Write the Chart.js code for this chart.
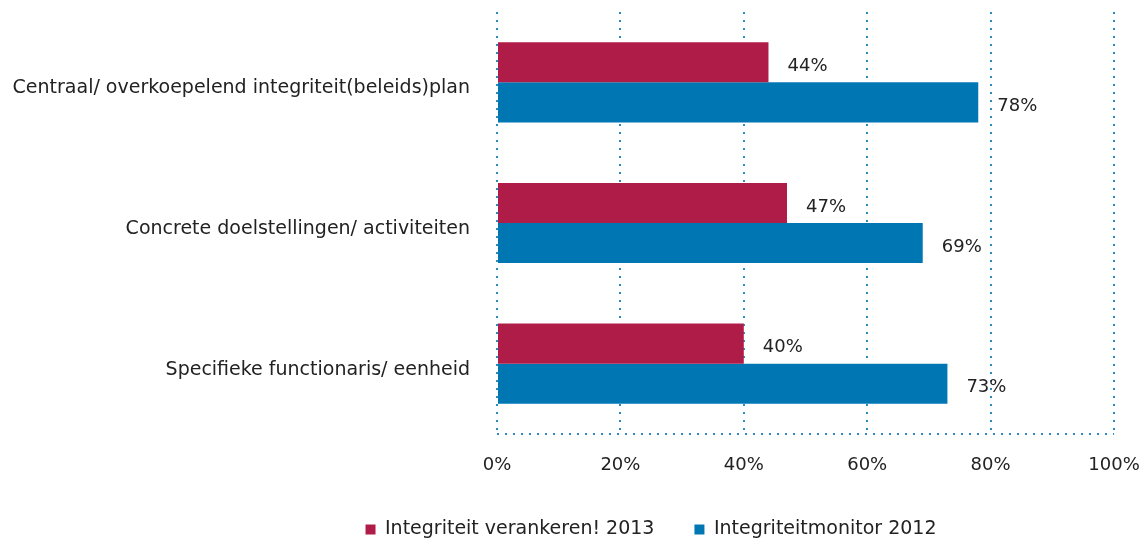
<!DOCTYPE html>
<html>
<head>
<meta charset="utf-8">
<script src="https://cdn.jsdelivr.net/npm/chart.js@4"></script>
<style>
  body { margin: 0; background: #fff; }
  #wrap { width: 1147px; height: 549px; }
</style>
</head>
<body>
<div id="wrap"><canvas id="myChart"></canvas></div>
<script>
const categories = [
  'Centraal/ overkoepelend integriteit(beleids)plan',
  'Concrete doelstellingen/ activiteiten',
  'Specifieke functionaris/ eenheid'
];
const values2013 = [44, 47, 40];
const values2012 = [78, 69, 73];
const xTicks = [0, 20, 40, 60, 80, 100];

const FONT = { family: 'DejaVu Sans', size: 19 };
const NUM_FONT = { family: 'DejaVu Sans', size: 18 };
const dotColor = '#2b8cc4';
const DASH = [2, 6];

// labels to the right of each bar
const valueLabels = {
  id: 'valueLabels',
  afterDatasetsDraw(chart) {
    const ctx = chart.ctx;
    ctx.save();
    ctx.font = NUM_FONT.size + 'px ' + NUM_FONT.family;
    ctx.fillStyle = '#222';
    ctx.textAlign = 'left';
    ctx.textBaseline = 'middle';
    chart.data.datasets.forEach((ds, i) => {
      chart.getDatasetMeta(i).data.forEach((bar, j) => {
        ctx.fillText(ds.data[j] + '%', bar.x + 19, bar.y + 4);
      });
    });
    ctx.restore();
  }
};

// Chart.js does not dash the axis border, so draw the dotted bottom line here
const dottedBase = {
  id: 'dottedBase',
  beforeDatasetsDraw(chart) {
    const { ctx, chartArea } = chart;
    ctx.save();
    ctx.strokeStyle = dotColor;
    ctx.lineWidth = 2;
    ctx.setLineDash(DASH);
    ctx.beginPath();
    ctx.moveTo(chartArea.left, chartArea.bottom);
    ctx.lineTo(chartArea.right, chartArea.bottom);
    ctx.stroke();
    ctx.restore();
  }
};

// legend in the original sits a bit right of the page centre
const legendShift = {
  id: 'legendShift',
  afterLayout(chart) {
    if (chart.legend) {
      chart.legend.left += 94;
      chart.legend.right += 94;
    }
  }
};

const ctx = document.getElementById('myChart').getContext('2d');
const myChart = new Chart(ctx, {
  type: 'bar',
  data: {
    labels: categories,
    datasets: [{
      label: 'Integriteit verankeren! 2013',
      data: values2013,
      backgroundColor: '#b01c48',
      barPercentage: 1,
      categoryPercentage: 0.57
    }, {
      label: 'Integriteitmonitor 2012',
      data: values2012,
      backgroundColor: '#0077b3',
      barPercentage: 1,
      categoryPercentage: 0.57
    }]
  },
  options: {
    indexAxis: 'y',
    responsive: true,
    maintainAspectRatio: false,
    animation: false,
    layout: { padding: { top: 12, right: 33, left: 0, bottom: 0 } },
    plugins: {
      legend: {
        position: 'bottom',
        labels: {
          boxWidth: 10,
          boxHeight: 10,
          padding: 40,
          color: '#222',
          font: FONT
        }
      },
      tooltip: { enabled: false }
    },
    scales: {
      x: {
        min: 0,
        max: 100,
        afterBuildTicks(scale) {
          scale.ticks = xTicks.map(v => ({ value: v }));
        },
        afterFit(scale) {
          scale.height = 46;
          scale.paddingLeft = 0;
          scale.paddingRight = 0;
        },
        grid: {
          color: dotColor,
          lineWidth: 2,
          drawTicks: false
        },
        border: { display: false, dash: DASH },
        ticks: {
          padding: 21,
          color: '#222',
          font: NUM_FONT,
          callback: v => v + '%'
        }
      },
      y: {
        afterFit(scale) {
          scale.width = 497;
          scale.paddingTop = 0;
          scale.paddingBottom = 0;
        },
        grid: { display: false },
        border: { display: false },
        ticks: {
          padding: 19,
          labelOffset: 6,
          color: '#222',
          font: FONT
        }
      }
    }
  },
  plugins: [valueLabels, dottedBase, legendShift]
});
</script>
</body>
</html>
